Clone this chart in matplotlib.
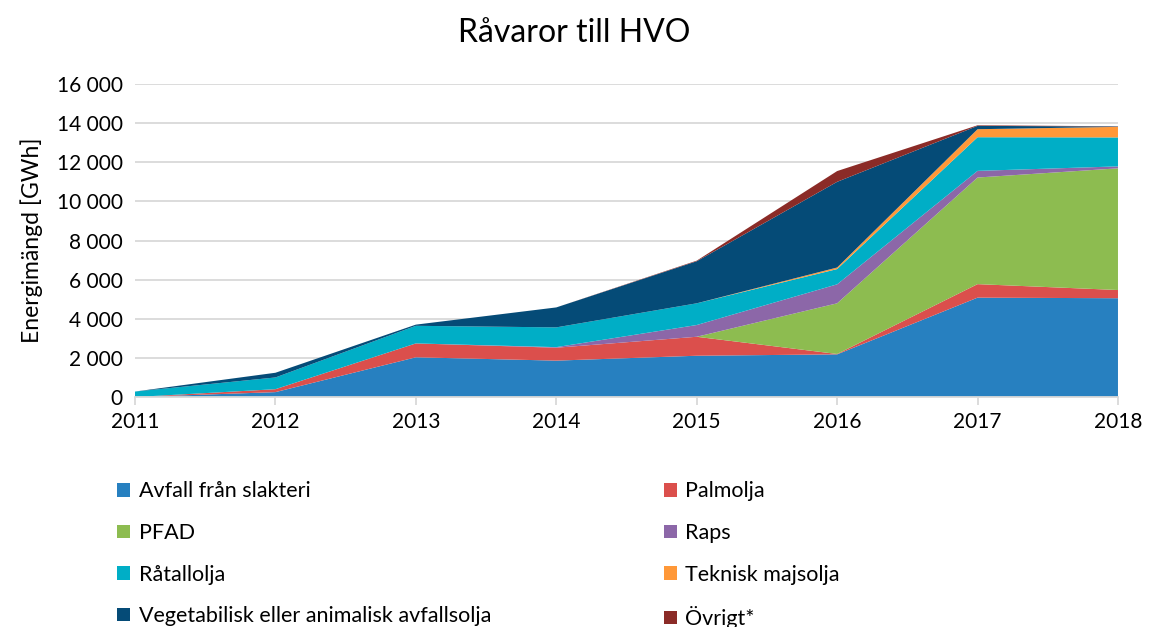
import numpy as np
import matplotlib.pyplot as plt
from matplotlib.patches import Patch
from matplotlib.ticker import FuncFormatter

plt.rcParams['font.family'] = ['Lato', 'DejaVu Sans']

years = [2011, 2012, 2013, 2014, 2015, 2016, 2017, 2018]

avfall_slakteri = [0, 250, 2030, 1860, 2110, 2180, 5080, 5050]
palmolja = [0, 150, 710, 660, 970, 20, 690, 420]
pfad = [0, 0, 0, 0, 0, 2590, 5450, 6220]
raps = [0, 0, 0, 30, 600, 970, 340, 100]
ratallolja = [280, 600, 900, 1010, 1110, 780, 1720, 1480]
teknisk_majsolja = [0, 0, 0, 0, 0, 80, 410, 540]
avfallsolja = [0, 240, 60, 1020, 2150, 4380, 170, 20]
ovrigt = [0, 0, 0, 0, 30, 550, 30, 10]

labels = ['Avfall från slakteri', 'Palmolja', 'PFAD', 'Raps', 'Råtallolja',
          'Teknisk majsolja', 'Vegetabilisk eller animalisk avfallsolja', 'Övrigt*']
colors = ['#2780C0', '#DB4F4C', '#8DBC50', '#8C67A8', '#00AEC6',
          '#FF9838', '#054B77', '#8B2B27']
series = [avfall_slakteri, palmolja, pfad, raps, ratallolja,
          teknisk_majsolja, avfallsolja, ovrigt]

fig = plt.figure(figsize=(11.49, 6.27), dpi=100)
ax = fig.add_axes([0.1175, 0.3668, 0.8555, 0.4992])

ax.stackplot(years, *series, colors=colors, linewidth=0)

ax.set_xlim(2011, 2018)
ax.set_ylim(0, 16000)
ax.set_yticks(np.arange(0, 16001, 2000))
ax.set_xticks(years)
ax.yaxis.set_major_formatter(FuncFormatter(lambda v, p: f'{int(v):,}'.replace(',', ' ')))
ax.grid(axis='y', color='#D9D9D9', linewidth=1.3)
ax.set_axisbelow(True)
for s in ['top', 'right', 'left']:
    ax.spines[s].set_visible(False)
ax.spines['bottom'].set_color('#D9D9D9')
ax.spines['bottom'].set_linewidth(1.3)
ax.tick_params(axis='y', length=0, labelsize=15, pad=9)
ax.tick_params(axis='x', length=6, color='#D9D9D9', width=1.3, labelsize=15, pad=5)
ax.set_ylabel('Energimängd [GWh]', fontsize=16.5, labelpad=10)

fig.suptitle('Råvaror till HVO', fontsize=23, y=0.972)

handles = [Patch(facecolor=c, edgecolor='none') for c in colors]
left_idx = [0, 2, 4, 6]
right_idx = [1, 3, 5, 7]
for idx, xpos in [(left_idx, 0.085), (right_idx, 0.561)]:
    fig.legend([handles[i] for i in idx], [labels[i] for i in idx],
               loc='upper left', bbox_to_anchor=(xpos, 0.263),
               frameon=False, fontsize=15.5, handlelength=0.6,
               handleheight=0.6, handletextpad=0.4, labelspacing=1.0)

fig.savefig('out.png', dpi=100)
